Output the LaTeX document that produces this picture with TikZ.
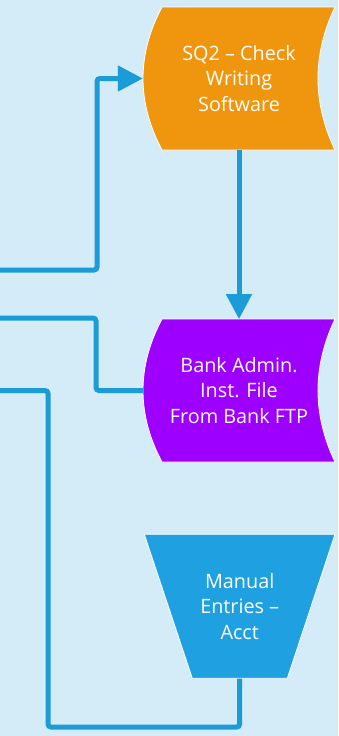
\documentclass[tikz,border=0pt]{standalone}
\usepackage{fontspec}
\setmainfont{Open Sans}
\usetikzlibrary{arrows.meta}
\definecolor{bgblue}{HTML}{D4EBF8}
\definecolor{wireblue}{HTML}{1B9BD7}
\definecolor{orangefill}{HTML}{F0960E}
\definecolor{violetfill}{HTML}{9E00FF}
\definecolor{trapfill}{HTML}{1EA0E1}

% outline of a stored-data symbol (convex left side, concave right side), relative to its centre
\newcommand{\storedoutline}{(-77,-71.5) -- (96,-71.5) .. controls (73.3,-24) and (73.3,24) .. (96,71.5) -- (-77,71.5) .. controls (-102.3,24) and (-102.3,-24) .. (-77,-71.5) -- cycle}

\begin{document}
\begin{tikzpicture}[x=1pt,y=-1pt,
  box/.style={minimum width=192pt, minimum height=143pt, inner sep=0pt,
              text=white, align=center, font=\fontsize{19.8}{25.5}\selectfont},
  shape edge/.style={draw=white, line width=0.8pt},
  wire/.style={draw=wireblue, line width=5pt, rounded corners=3pt},
  arrowhead/.style={-{Triangle[length=25pt,width=25pt]}}
]
\useasboundingbox (0,0) rectangle (338,736);
\fill[bgblue] (0,0) rectangle (338,736);

% shape centres
\coordinate (c1) at (239,78.5);
\coordinate (c2) at (239,390.5);
\coordinate (c3) at (239.7,606.3);

% shapes
\draw[shape edge, fill=orangefill, shift={(c1)}] \storedoutline;
\draw[shape edge, fill=violetfill, shift={(c2)}] \storedoutline;
\draw[shape edge, fill=trapfill, shift={(c3)}]
  (-95.4,-72) -- (95.3,-72) -- (47.6,72) -- (-47.4,72) -- cycle;

% labels
\node[box] (sq2) at (c1) {SQ2 -- Check\\Writing\\Software};
\node[box, minimum height=142.4pt] (bank) at (c2) {Bank Admin.\\Inst. File\\From Bank FTP};
\node[box, minimum width=191pt, minimum height=144pt] (manual) at (c3) {Manual\\Entries --\\Acct};

% incoming lines from the left edge
\coordinate (inA) at (0,270);
\coordinate (inC) at (0,318);
\coordinate (inD) at (0,390.5);

% connectors
\draw[wire, arrowhead] (inA) -- ++(97,0) |- (sq2.west);
\draw[wire, arrowhead] (sq2.south) -- (bank.north);
\draw[wire] (inC) -- ++(96,0) |- (bank.west);
\draw[wire] (inD) -- ++(48,0) -- ++(0,336.5) -| (manual.south);
\end{tikzpicture}
\end{document}
